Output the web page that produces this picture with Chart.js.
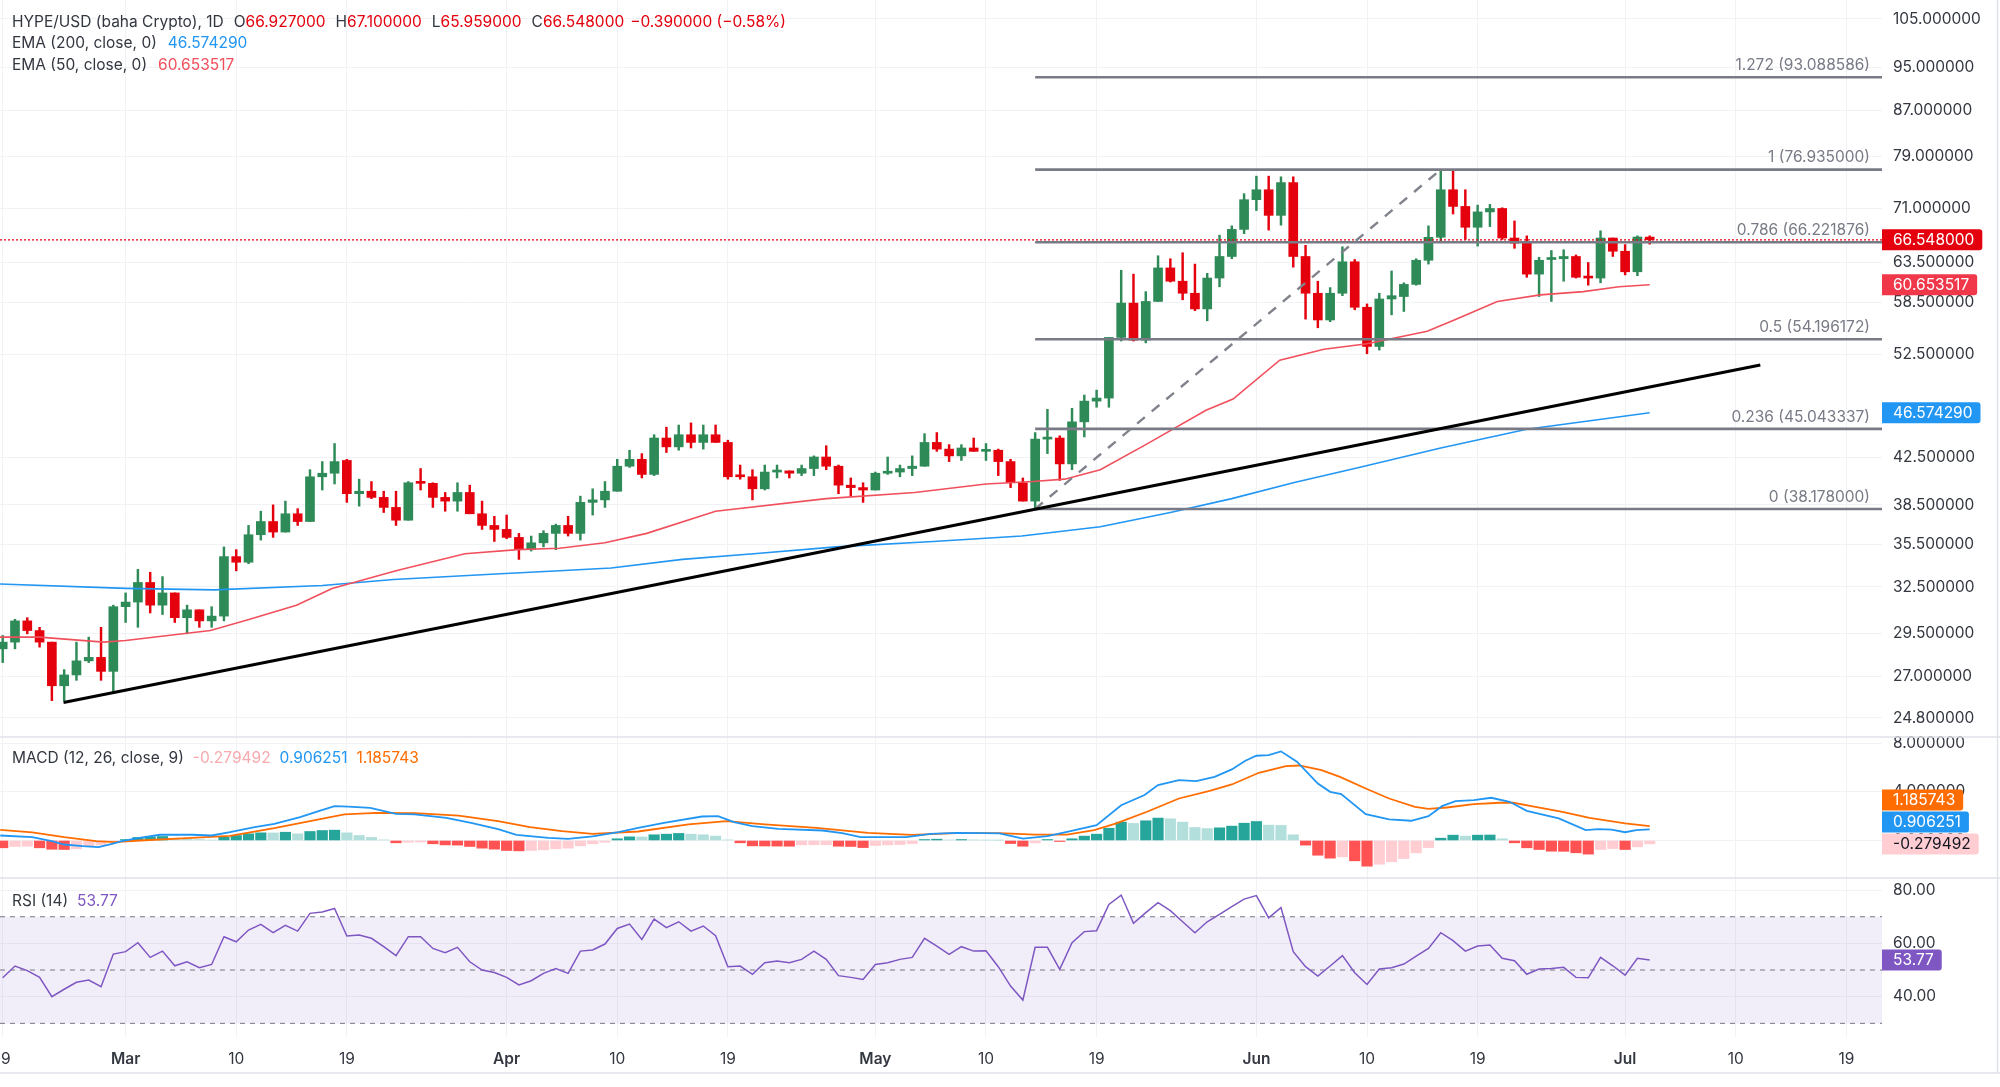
<!DOCTYPE html>
<html><head><meta charset="utf-8">
<script src="https://cdn.jsdelivr.net/npm/chart.js@4.4.1/dist/chart.umd.min.js"></script>
<style>html,body{margin:0;padding:0;background:#fff;overflow:hidden}#wrap{position:relative;width:2000px;height:1087px}</style>
</head><body><div id="wrap"><canvas id="c" width="2000" height="1087"></canvas></div>
<script>
// ---------------- DATA (day index 0 = Feb 19) ----------------
const CANDLE_OPEN  = [28.6,29.0,30.3,29.7,29.0,26.5,27.1,27.9,28.1,27.3, 31.2,31.5,32.8,31.3,32.1,30.5,31.0,30.3,30.6,34.6, 34.2,36.2,37.2,36.4,37.8,37.2,40.8,41.1,42.2,39.4, 39.6,39.1,38.3,37.3,40.35,40.25,39.1,38.8,39.5,37.8, 36.9,36.6,36.0,35.1,35.6,36.3,36.9,36.3,38.7,38.9, 39.6,41.7,42.3,41.0,44.2,43.4,44.5,43.8,44.5,43.8, 40.9,40.8,39.8,41.2,41.3,41.1,41.5,42.5,41.7,40.1, 39.9,39.7,41.1,41.2,41.5,41.7,43.8,43.2,42.6,43.3, 43.0,43.1,42.1,40.3,38.8,44.1,44.2,41.9,45.7,47.7, 48.0,54.4,58.4,54.1,58.6,62.8,61.1,59.6,57.7,61.5, 64.3,68.0,72.3,73.8,70.0,74.9,64.3,59.6,56.4,59.6, 63.6,57.9,53.4,58.9,59.2,60.7,63.8,66.9,73.8,71.3, 68.3,70.5,71.0,66.8,66.1,62.0,63.9,64.0,64.3,61.7, 61.5,66.8,65.0,62.3,66.927];
const CANDLE_HIGH  = [29.4,30.4,30.5,29.9,29.0,27.4,29.0,29.3,29.9,31.3, 32.1,33.7,33.5,33.2,32.1,31.3,31.0,31.2,35.3,35.1, 36.9,38.0,38.5,38.8,38.2,41.4,42.1,43.7,42.3,40.6, 40.4,39.6,39.6,40.4,41.5,40.3,39.5,40.3,40.1,38.8, 37.6,37.7,36.3,36.1,36.5,37.0,37.6,39.2,39.8,40.4, 42.3,43.1,42.8,44.5,45.2,45.4,45.6,45.4,45.4,44.0, 41.8,41.4,41.8,41.8,41.3,41.8,42.6,43.5,41.8,40.7, 40.3,41.2,42.5,41.8,42.6,44.6,44.7,43.6,43.6,44.2, 43.7,43.2,42.3,40.7,44.7,46.9,44.4,47.0,48.3,48.8, 54.4,62.5,62.0,59.8,64.4,64.0,64.8,63.3,62.1,67.2, 68.5,73.2,75.9,75.9,75.8,75.8,65.8,61.1,60.3,65.6, 63.9,58.3,59.6,62.4,60.9,64.0,68.5,76.935,76.7,73.8, 71.5,71.6,71.1,69.2,67.1,64.2,65.1,65.2,64.5,63.5, 67.8,66.8,65.9,67.1,67.1];
const CANDLE_LOW   = [27.8,28.6,29.5,28.7,25.7,25.7,26.8,27.8,26.8,26.1, 30.2,29.9,30.8,30.7,30.2,29.5,29.9,29.9,30.3,33.6, 34.1,35.8,36.0,36.4,36.9,37.2,39.7,40.2,38.7,38.4, 39.0,37.9,36.9,37.3,39.7,38.3,38.0,38.0,37.8,36.6, 35.7,35.9,34.4,35.0,35.3,35.1,36.1,35.8,37.7,38.3, 39.6,41.6,40.7,40.9,42.9,43.1,43.3,43.2,43.8,40.6, 40.6,38.9,39.7,40.7,40.7,40.9,40.9,41.4,39.4,39.2, 38.7,39.7,41.0,40.8,40.9,41.7,43.0,42.1,42.2,43.0, 42.2,40.9,39.9,38.8,38.178,42.8,40.5,41.4,44.3,47.1, 47.1,54.0,54.0,53.8,58.6,61.0,58.8,57.5,56.3,60.4, 64.0,67.4,70.7,67.9,68.6,62.9,56.5,55.5,56.2,59.3, 57.6,52.6,53.0,57.0,57.4,60.6,63.3,66.4,70.2,66.6, 65.7,68.4,66.6,65.4,61.6,59.2,58.6,61.1,61.5,60.6, 60.9,64.3,61.9,61.8,65.959];
const CANDLE_CLOSE = [29.0,30.3,29.7,29.0,26.5,27.1,27.9,28.1,27.3,31.2, 31.5,32.8,31.3,32.1,30.5,31.0,30.3,30.6,34.6,34.2, 36.2,37.2,36.4,37.8,37.2,40.8,41.1,42.1,39.4,39.6, 39.1,38.3,37.3,40.3,40.25,39.1,38.8,39.5,37.8,36.9, 36.6,36.0,35.1,35.6,36.3,36.9,36.3,38.7,38.9,39.6, 41.7,42.3,41.0,44.2,43.4,44.5,43.8,44.5,43.8,40.8, 40.8,39.8,41.2,41.3,41.1,41.5,42.5,41.7,40.1,39.9, 39.7,41.1,41.2,41.5,41.7,43.8,43.2,42.6,43.3,43.0, 43.1,42.1,40.3,38.8,44.1,44.2,41.9,45.7,47.7,48.0, 54.4,58.4,54.1,58.6,62.8,61.1,59.6,57.7,61.5,64.3, 68.0,72.3,73.8,70.0,74.9,64.3,59.6,56.4,59.6,63.6, 57.9,53.4,58.9,59.3,60.7,63.8,66.9,73.8,71.3,68.3, 70.5,71.0,66.8,66.1,62.0,63.8,64.0,64.3,61.6,61.5, 66.8,65.0,62.3,66.938,66.548];

// EMA lines as [day, value]
const EMA200_PTS = [[-0.22,32.7],[10,32.4],[17.2,32.3],[26,32.6],[31.8,33.0],[40.5,33.4],[45.3,33.6],[49.5,33.8],[55.3,34.4],[61.1,34.8],[67.8,35.3],[75.7,35.7],[82.9,36.1],[89.3,36.8],[95,37.9],[100,39.0],[105,40.3],[110,41.5],[117,43.3],[124,45.0],[134,46.57429]];
const EMA50_PTS  = [[-0.22,29.3],[3,29.3],[8.2,29.0],[10,29.1],[16.9,29.7],[20.1,30.4],[23.9,31.3],[26.8,32.4],[32,33.6],[37.6,34.8],[41.9,35.1],[45.3,35.2],[49,35.6],[52.4,36.3],[58,38.0],[67,39.0],[74.2,39.5],[80,40.2],[83.8,40.4],[86.4,40.6],[89.3,41.4],[93,43.6],[97.9,46.8],[100.1,47.9],[103.9,51.9],[107.5,53.1],[111,53.7],[115.9,55.1],[118.1,56.4],[121.6,58.6],[125.1,59.4],[128.6,59.8],[131.5,60.4],[134,60.653517]];

// MACD (12,26,9)
const MACD_PTS = [[-0.2,0.41],[2.4,0.27],[4,-0.05],[5,-0.33],[6.5,-0.47],[7.8,-0.55],[8.9,-0.27],[9.7,-0.05],[11,0.19],[12.8,0.47],[15.4,0.47],[17,0.41],[18.5,0.68],[20.5,1.10],[22.1,1.37],[24.2,1.92],[25.7,2.41],[27,2.82],[28.1,2.79],[29.9,2.68],[32,2.19],[33.5,2.14],[36.1,1.86],[38.2,1.42],[40.3,0.93],[41.8,0.47],[44.4,0.22],[46,0.14],[48,0.33],[50.1,0.68],[51.7,1.04],[53.8,1.45],[56.9,1.97],[58.2,2.0],[59.5,1.51],[61,1.18],[63.1,0.96],[66.7,0.82],[68.3,0.60],[69.8,0.27],[73.5,0.27],[75.5,0.55],[77.6,0.63],[79.7,0.60],[81.1,0.58],[83,0.16],[85,0.36],[86.6,0.71],[89,1.26],[91,2.90],[92.9,3.73],[94,4.55],[95.7,4.96],[97.1,4.88],[98.6,5.23],[100,5.84],[101.1,6.55],[102,6.96],[103,7.01],[104,7.32],[105.3,6.47],[107,4.68],[108,4.0],[108.9,3.81],[110.9,2.16],[112.8,1.73],[114.6,1.62],[116,2.0],[117.1,2.82],[118.2,3.23],[119.7,3.32],[121.1,3.51],[122.6,3.18],[124,2.44],[126.6,1.81],[128.8,0.85],[129.8,0.93],[130.9,0.90],[132,0.68],[132.9,0.85],[134,0.906251]];
const SIGNAL_PTS = [[-0.2,0.88],[2.4,0.66],[5,0.27],[7.6,-0.05],[9.1,-0.14],[11.2,0],[15.4,0.22],[18.5,0.38],[22.1,1.01],[25.2,1.64],[27.8,2.14],[30.4,2.27],[33.5,2.25],[37.1,2.05],[40.3,1.59],[42.9,1.10],[45.5,0.77],[48,0.55],[51.7,0.74],[55.8,1.32],[58.9,1.59],[62,1.32],[66.2,1.04],[70.4,0.63],[74,0.47],[77.6,0.60],[81.1,0.60],[84,0.49],[86.6,0.49],[88.8,0.85],[90.6,1.40],[93.1,2.36],[95.7,3.45],[98.2,4.08],[100,4.60],[102.2,5.56],[104.4,6.11],[105.5,6.16],[107.3,5.78],[108.8,5.23],[110.9,4.27],[112.8,3.45],[114.9,2.77],[116,2.60],[117.5,2.71],[119.7,2.99],[121.8,3.10],[122.9,3.10],[124.7,2.77],[126.9,2.36],[129.1,1.86],[132,1.40],[134,1.185743]];
const MACD_HIST = [-0.60,-0.49,-0.47,-0.60,-0.72,-0.74,-0.68,-0.49,-0.36,-0.03, 0.08,0.25,0.30,0.33,0.14,0.11,0.08,0.03,0.27,0.41, 0.55,0.63,0.62,0.68,0.55,0.74,0.82,0.85,0.63,0.41, 0.25,0.05,-0.19,-0.14,-0.12,-0.27,-0.36,-0.38,-0.49,-0.63, -0.71,-0.82,-0.85,-0.82,-0.77,-0.68,-0.63,-0.44,-0.27,-0.14, 0.14,0.30,0.29,0.47,0.52,0.58,0.52,0.47,0.36,0.05, -0.19,-0.44,-0.45,-0.46,-0.47,-0.36,-0.35,-0.34,-0.47,-0.49, -0.58,-0.41,-0.36,-0.33,-0.25,0.08,0.11,0.05,0.08,0.05, 0.03,0.02,-0.25,-0.47,-0.19,0.08,-0.08,0.14,0.36,0.52, 1.01,1.51,1.40,1.62,1.84,1.78,1.51,1.07,0.98,1.04, 1.18,1.42,1.56,1.26,1.24,0.47,-0.38,-1.21,-1.45,-1.34, -1.67,-2.11,-1.95,-1.75,-1.48,-1.01,-0.58,0.19,0.44,0.36, 0.44,0.45,0.14,-0.19,-0.60,-0.74,-0.88,-0.89,-1.01,-1.12, -0.74,-0.66,-0.74,-0.52,-0.279492];

// RSI (14)
const RSI_VALUES = [47.1,51.5,49.8,47.25,40.0,42.8,45.4,46.25,43.75,56.0, 56.9,60.25,54.75,57.1,51.6,53.1,50.9,52.1,62.5,60.6, 65.0,67.1,64.0,66.75,64.6,71.25,71.75,73.1,62.75,63.1, 61.9,58.75,55.4,62.5,62.5,58.1,56.5,58.5,53.1,50.0, 49.1,47.25,44.4,46.0,48.75,50.6,48.75,57.1,57.5,59.75, 65.6,67.25,61.5,69.1,65.9,68.1,64.6,66.5,62.9,51.25, 51.5,48.4,52.75,53.4,52.75,54.0,57.1,54.0,47.9,47.25, 46.5,52.1,52.75,54.0,54.75,61.9,59.0,55.9,58.75,57.1, 57.25,51.25,44.0,38.75,58.5,58.5,50.25,60.25,64.4,64.75, 74.6,78.1,67.5,71.5,75.25,72.25,68.1,64.0,68.1,70.9, 73.75,76.6,77.9,69.6,73.4,56.9,51.25,47.75,51.5,55.4, 49.0,44.6,50.4,50.9,52.25,55.25,58.1,64.0,61.0,57.1, 59.0,59.4,54.4,53.5,48.4,50.4,50.6,51.0,47.25,47.1, 54.75,51.6,48.1,54.4,53.77];
const RSI_LEVELS = [70, 50, 30];

// Drawings
const FIB_RATIOS = ['1.272','1','0.786','0.5','0.236','0'];
const FIB_PRICES = [93.088586,76.935,66.221876,54.196172,45.043337,38.178];
const FIB_ANCHOR = [[84,38.178],[117,76.935]];
const TREND_PTS  = [[4.95,25.6],[143,51.4]];

// Axes
const PRICE_TICKS = [24.8,27,29.5,32.5,35.5,38.5,42.5,52.5,58.5,63.5,71,79,87,95,105];
const MACD_TICKS = [0,4,8];
const RSI_TICKS = [40,60,80];
const DATE_TICK_DAYS   = [0,10,19,28,41,50,59,71,80,89,102,111,120,132,141,150];
const DATE_TICK_LABELS = ['19','Mar','10','19','Apr','10','19','May','10','19','Jun','10','19','Jul','10','19'];
const MONTHS = ['Mar','Apr','May','Jun','Jul'];
const X_MIN = -0.22, X_MAX = 152.9;
const P_MIN = 23.84, P_MAX = 109.2;
const M_MIN = -3.08, M_MAX = 8.5;
const R_MIN = 24.9, R_MAX = 84.5;

// ---------------- STYLE ----------------
const FONT = "Inter, 'Noto Sans', sans-serif";
const FS = 15.5;
const GRID = '#f0f2f5';
const TXT = '#333740';
const UP = '#2e8a57', DN = '#e4000c';
const PRICE_RED = '#e4000c';
const EMA50_C = '#f0505c', EMA200_C = '#2196f3';
const FIB_C = '#787b86';

const N = CANDLE_CLOSE.length;
const idx = CANDLE_CLOSE.map((_, i) => i);
const cColors = idx.map(i => CANDLE_CLOSE[i] >= CANDLE_OPEN[i] ? UP : DN);
const hColors = MACD_HIST.map((v, i) => {
  const p = i ? MACD_HIST[i - 1] : Infinity;
  if (v >= 0) return v >= p ? '#26a69a' : '#b2dfdb';
  return v < p ? '#ff5252' : '#ffcdd2';
});
const xy = pts => pts.map(([x, y]) => ({x, y}));
const hline = (x0, x1, y) => [{x: x0, y}, {x: x1, y}];
const line = (o) => Object.assign({type: 'line', pointRadius: 0, borderWidth: 1.5, fill: false, tension: 0}, o);

const datasets = [
  line({data: hline(X_MIN, X_MAX, RSI_LEVELS[0]), yAxisID: 'yR', borderWidth: 0, fill: {value: RSI_LEVELS[2]}, backgroundColor: 'rgba(126,87,194,0.1)', order: 30}),
  ...RSI_LEVELS.map(v => line({data: hline(X_MIN, X_MAX, v), yAxisID: 'yR', borderColor: '#8a8d96', borderWidth: 1.2, borderDash: [5, 5], order: 29})),
  line({data: RSI_VALUES.map((v, i) => ({x: i, y: v})), yAxisID: 'yR', borderColor: '#7e57c2', borderWidth: 1.5, order: 2}),
  {type: 'bar', data: MACD_HIST.map((v, i) => ({x: i, y: v})), yAxisID: 'yM', backgroundColor: hColors, barThickness: 10.5, grouped: false, order: 12},
  line({data: xy(MACD_PTS), yAxisID: 'yM', borderColor: '#2196f3', borderWidth: 1.8, order: 3}),
  line({data: xy(SIGNAL_PTS), yAxisID: 'yM', borderColor: '#ff6d00', borderWidth: 1.8, order: 4}),
  {type: 'bar', data: idx.map(i => ({x: i, y: [CANDLE_LOW[i], CANDLE_HIGH[i]]})), yAxisID: 'yP', backgroundColor: cColors, barThickness: 1.8, grouped: false, order: 11},
  {type: 'bar', data: idx.map(i => ({x: i, y: [CANDLE_OPEN[i], CANDLE_CLOSE[i]]})), yAxisID: 'yP', backgroundColor: cColors, barThickness: 9, minBarLength: 2, grouped: false, order: 10},
  line({data: hline(X_MIN, X_MAX, CANDLE_CLOSE[N - 1]), yAxisID: 'yP', borderColor: PRICE_RED, borderWidth: 1.3, borderDash: [2, 2], order: 9}),
  line({data: xy(EMA200_PTS), yAxisID: 'yP', borderColor: EMA200_C, borderWidth: 1.6, order: 8}),
  line({data: xy(EMA50_PTS), yAxisID: 'yP', borderColor: EMA50_C, borderWidth: 1.6, order: 7}),
  ...FIB_PRICES.map(p => line({data: hline(FIB_ANCHOR[0][0], X_MAX, p), yAxisID: 'yP', borderColor: FIB_C, borderWidth: 2.6, order: 6})),
  line({data: xy(FIB_ANCHOR), yAxisID: 'yP', borderColor: '#80838c', borderWidth: 2.4, borderDash: [10, 9], order: 5}),
  line({data: xy(TREND_PTS), yAxisID: 'yP', borderColor: '#000000', borderWidth: 3, order: 1}),
];

const tickFont = {family: FONT, size: FS};
function yAxis(extra) {
  return Object.assign({
    position: 'right', stack: 'panes', offset: false,
    afterFit: s => { s.width = 118; s.paddingTop = 0; s.paddingBottom = 0; },
    grid: {color: GRID, drawTicks: false, lineWidth: 1},
    border: {display: false}
  }, extra);
}

const fmtM = v => v.toFixed(6);

const overlay = {
  id: 'overlay',
  afterDatasetsDraw(chart) {
    const ctx = chart.ctx, yP = chart.scales.yP, area = chart.chartArea;
    ctx.save();
    ctx.font = `${FS}px ${FONT}`;
    ctx.fillStyle = FIB_C;
    ctx.textAlign = 'right';
    ctx.textBaseline = 'middle';
    FIB_PRICES.forEach((p, k) => {
      ctx.fillText(`${FIB_RATIOS[k]} (${p.toFixed(6)})`, area.right - 12, yP.getPixelForValue(p) - 12);
    });
    ctx.restore();
  },
  afterDraw(chart) {
    const ctx = chart.ctx, area = chart.chartArea;
    const yP = chart.scales.yP, yM = chart.scales.yM, yR = chart.scales.yR;
    const W = chart.width;
    ctx.save();
    ctx.strokeStyle = '#dfe2e8';
    ctx.lineWidth = 1.5;
    [yM.top, yR.top].forEach(y => { ctx.beginPath(); ctx.moveTo(0, y); ctx.lineTo(W, y); ctx.stroke(); });
    ctx.beginPath(); ctx.moveTo(0, 1073); ctx.lineTo(W, 1073); ctx.stroke();
    ctx.beginPath(); ctx.moveTo(1997.5, 0); ctx.lineTo(1997.5, 1073); ctx.stroke();

    ctx.font = `${FS}px ${FONT}`;
    ctx.textBaseline = 'middle';
    ctx.textAlign = 'left';
    function segs(x, y, list) {
      for (const [t, c, gap] of list) {
        x += gap || 0;
        ctx.fillStyle = c;
        ctx.fillText(t, x, y);
        x += ctx.measureText(t).width;
      }
    }
    const L = N - 1;
    const chg = CANDLE_CLOSE[L] - CANDLE_CLOSE[L - 1];
    const pct = chg / CANDLE_CLOSE[L - 1] * 100;
    segs(12, 22, [
      ['HYPE/USD (baha Crypto), 1D', TXT],
      ['O', TXT, 10], [CANDLE_OPEN[L].toFixed(6), PRICE_RED],
      ['H', TXT, 10], [CANDLE_HIGH[L].toFixed(6), PRICE_RED],
      ['L', TXT, 10], [CANDLE_LOW[L].toFixed(6), PRICE_RED],
      ['C', TXT, 10], [CANDLE_CLOSE[L].toFixed(6), PRICE_RED],
      [(chg < 0 ? '\u2212' : '+') + Math.abs(chg).toFixed(6) + ' (' + (pct < 0 ? '\u2212' : '+') + Math.abs(pct).toFixed(2) + '%)', PRICE_RED, 6]
    ]);
    const ema200 = EMA200_PTS[EMA200_PTS.length - 1][1];
    const ema50 = EMA50_PTS[EMA50_PTS.length - 1][1];
    segs(12, 43.5, [['EMA (200, close, 0)', TXT], [ema200.toFixed(6), EMA200_C, 11]]);
    segs(12, 65, [['EMA (50, close, 0)', TXT], [ema50.toFixed(6), EMA50_C, 11]]);

    const mv = MACD_PTS[MACD_PTS.length - 1][1], sv = SIGNAL_PTS[SIGNAL_PTS.length - 1][1], hv = MACD_HIST[MACD_HIST.length - 1];
    segs(12, yM.top + 21, [['MACD (12, 26, close, 9)', TXT], [fmtM(hv), '#f7a9ae', 9], [fmtM(mv), '#2196f3', 9], [fmtM(sv), '#ff6d00', 9]]);
    const rv = RSI_VALUES[RSI_VALUES.length - 1];
    segs(12, yR.top + 23, [['RSI (14)', TXT], [rv.toFixed(2), '#7e57c2', 9]]);

    function box(y, text, bg, fg) {
      const w = ctx.measureText(text).width + 19;
      const x = area.right, h = 21;
      ctx.fillStyle = bg;
      ctx.beginPath();
      ctx.roundRect(x, y - h / 2, w, h, [0, 3, 3, 0]);
      ctx.fill();
      ctx.fillStyle = fg;
      ctx.fillText(text, x + 11, y + 0.5);
    }
    box(yP.getPixelForValue(CANDLE_CLOSE[L]), CANDLE_CLOSE[L].toFixed(6), '#e4000c', '#fff');
    box(yP.getPixelForValue(ema50), ema50.toFixed(6), '#f0384a', '#fff');
    box(yP.getPixelForValue(ema200), ema200.toFixed(6), '#2196f3', '#fff');
    const items = [
      {y: yM.getPixelForValue(hv), t: fmtM(hv), bg: '#ffcdd2', fg: '#131722'},
      {y: yM.getPixelForValue(mv), t: fmtM(mv), bg: '#2196f3', fg: '#fff'},
      {y: yM.getPixelForValue(sv), t: fmtM(sv), bg: '#ff6d00', fg: '#fff'}
    ].sort((a, b) => b.y - a.y);
    let prev = Infinity;
    items.forEach(it => { const y = Math.min(it.y, prev - 22); prev = y; box(y, it.t, it.bg, it.fg); });
    box(yR.getPixelForValue(rv), rv.toFixed(2), '#7e57c2', '#fff');
    ctx.restore();
  }
};

new Chart(document.getElementById('c'), {
  type: 'bar',
  data: {datasets},
  options: {
    responsive: false, animation: false, events: [],
    layout: {padding: 0},
    plugins: {legend: {display: false}, tooltip: {enabled: false}},
    scales: {
      x: {
        type: 'linear', min: X_MIN, max: X_MAX, offset: false, position: 'bottom',
        afterBuildTicks: s => { s.ticks = DATE_TICK_DAYS.map(v => ({value: v})); },
        afterFit: s => { s.height = 50; s.paddingLeft = 0; s.paddingRight = 0; },
        grid: {color: GRID, drawTicks: false, offset: false},
        border: {display: false},
        ticks: {
          autoSkip: false, maxRotation: 0, minRotation: 0, padding: 13, color: TXT,
          font: c => ({family: FONT, size: FS, weight: (c.tick && MONTHS.includes(DATE_TICK_LABELS[DATE_TICK_DAYS.indexOf(c.tick.value)])) ? '600' : '400'}),
          callback: v => DATE_TICK_LABELS[DATE_TICK_DAYS.indexOf(v)]
        }
      },
      yP: yAxis({type: 'logarithmic', min: P_MIN, max: P_MAX, stackWeight: 737,
        afterBuildTicks: s => { s.ticks = PRICE_TICKS.map(v => ({value: v})); },
        ticks: {padding: 11, color: TXT, font: tickFont, autoSkip: false, callback: v => Number(v).toFixed(6)}}),
      yM: yAxis({type: 'linear', min: M_MIN, max: M_MAX, stackWeight: 141,
        afterBuildTicks: s => { s.ticks = MACD_TICKS.map(v => ({value: v})); },
        ticks: {padding: 11, color: TXT, font: tickFont, autoSkip: false, callback: v => Number(v).toFixed(6)}}),
      yR: yAxis({type: 'linear', min: R_MIN, max: R_MAX, stackWeight: 159,
        afterBuildTicks: s => { s.ticks = RSI_TICKS.map(v => ({value: v})); },
        ticks: {padding: 11, color: TXT, font: tickFont, autoSkip: false, callback: v => Number(v).toFixed(2)}})
    }
  },
  plugins: [overlay]
});
</script></body></html>
